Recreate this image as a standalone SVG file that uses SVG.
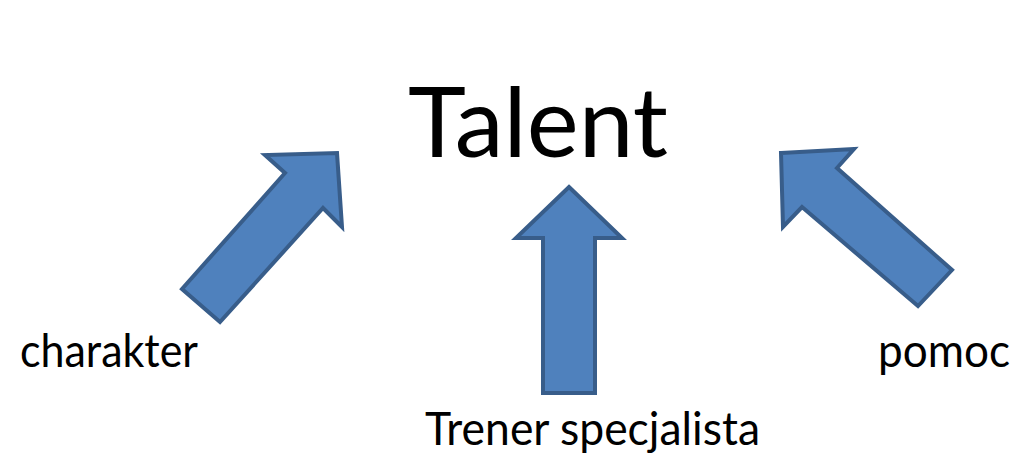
<svg xmlns="http://www.w3.org/2000/svg" width="1019" height="460" viewBox="0 0 1019 460">
<style>
.arrow{fill:#4F81BD;stroke:#385D8A;stroke-width:4;stroke-linejoin:miter}
.t{font-family:Lato,"Open Sans","Liberation Sans",sans-serif;fill:#000}
</style>
<rect width="1019" height="460" fill="#fff"/>
<g id="talent"><text class="t" x="408" y="157" font-size="96" textLength="260" lengthAdjust="spacingAndGlyphs">Talent</text></g>
<g id="charakter"><text class="t" x="20" y="367" font-size="46" textLength="178" lengthAdjust="spacingAndGlyphs">charakter</text></g>
<g id="pomoc"><text class="t" x="878" y="367" font-size="46" textLength="132" lengthAdjust="spacingAndGlyphs">pomoc</text></g>
<g id="trener"><text class="t" x="425" y="445" font-size="46" textLength="335" lengthAdjust="spacingAndGlyphs">Trener specjalista</text></g>
<g id="connectors">
<polygon class="arrow" points="337,153 342,227 323,208 220,322 182,289 285,173 265,155"/>
<polygon class="arrow" points="569,187 622,238 595,238 595,393 543,393 543,238 516,238"/>
<polygon class="arrow" points="781,153 854,149 837,168 952,270 918,306 802,207 783,227"/>
</g>
</svg>
